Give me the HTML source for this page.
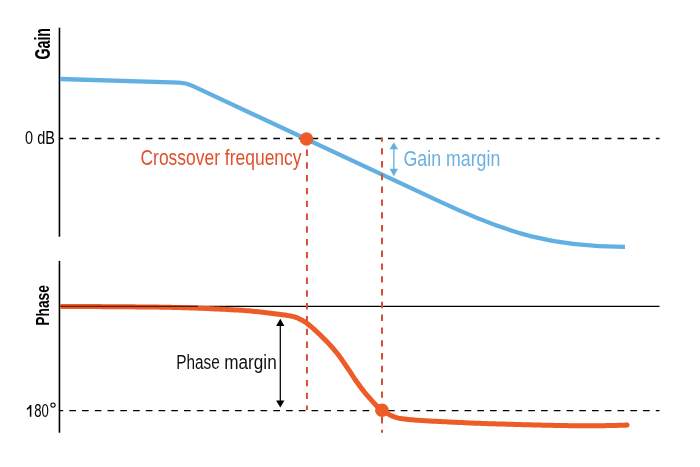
<!DOCTYPE html>
<html><head><meta charset="utf-8"><style>
html,body{margin:0;padding:0;background:#fff;}
svg{display:block;will-change:transform;}
text{font-family:"Liberation Sans",sans-serif;}
</style></head><body>
<svg width="700" height="467" viewBox="0 0 700 467">
<rect width="700" height="467" fill="#fff"/>
<!-- axes -->
<line x1="59.45" y1="27.7" x2="59.45" y2="236.7" stroke="#000" stroke-width="1.6"/>
<line x1="59.45" y1="260.9" x2="59.45" y2="432.7" stroke="#000" stroke-width="1.6"/>
<!-- dashed horizontals -->
<line x1="59.5" y1="138.4" x2="659.5" y2="138.4" stroke="#000" stroke-width="1.45" stroke-dasharray="6.65 6.1" stroke-dashoffset="2.95"/>
<line x1="59.5" y1="410.6" x2="659.5" y2="410.6" stroke="#000" stroke-width="1.45" stroke-dasharray="6.65 6.1" stroke-dashoffset="2.95"/>
<line x1="60" y1="306.4" x2="659.5" y2="306.4" stroke="#000" stroke-width="1.3"/>
<!-- gain curve -->
<path d="M 60 79 L 179 82.7 Q 186.2 82.9 192.5 85.9 L 440 201.6 C 510 234.6 555 247 625 246.8" fill="none" stroke="#62b0e2" stroke-width="4.3" stroke-linecap="butt" stroke-linejoin="round"/>
<!-- red dashed verticals -->
<line x1="306.95" y1="136.7" x2="306.95" y2="410" stroke="#d25136" stroke-width="2" stroke-dasharray="6.4 6.4"/>
<line x1="382" y1="137.6" x2="382" y2="432.8" stroke="#d25136" stroke-width="2" stroke-dasharray="6.4 6.4" stroke-dashoffset="2.2"/>
<!-- phase curve -->
<path d="M 60.5 306.50 L 62.5 306.50 L 64.5 306.50 L 66.5 306.50 L 68.5 306.51 L 70.5 306.51 L 72.5 306.51 L 74.5 306.52 L 76.5 306.52 L 78.5 306.53 L 80.5 306.53 L 82.5 306.54 L 84.5 306.54 L 86.5 306.55 L 88.5 306.56 L 90.5 306.57 L 92.5 306.58 L 94.5 306.59 L 96.5 306.60 L 98.5 306.61 L 100.5 306.62 L 102.5 306.63 L 104.5 306.64 L 106.5 306.65 L 108.5 306.66 L 110.5 306.68 L 112.5 306.69 L 114.5 306.70 L 116.5 306.72 L 118.5 306.73 L 120.5 306.75 L 122.5 306.76 L 124.5 306.78 L 126.5 306.79 L 128.5 306.81 L 130.5 306.82 L 132.5 306.84 L 134.5 306.86 L 136.5 306.88 L 138.5 306.89 L 140.5 306.91 L 142.5 306.93 L 144.5 306.95 L 146.5 306.97 L 148.5 306.99 L 150.5 307.00 L 152.5 307.03 L 154.5 307.05 L 156.5 307.08 L 158.5 307.11 L 160.5 307.14 L 162.5 307.17 L 164.5 307.21 L 166.5 307.25 L 168.5 307.29 L 170.5 307.33 L 172.5 307.38 L 174.5 307.43 L 176.5 307.48 L 178.5 307.54 L 180.5 307.59 L 182.5 307.65 L 184.5 307.71 L 186.5 307.77 L 188.5 307.84 L 190.5 307.91 L 192.5 307.98 L 194.5 308.05 L 196.5 308.12 L 198.5 308.20 L 200.5 308.27 L 202.5 308.36 L 204.5 308.44 L 206.5 308.52 L 208.5 308.61 L 210.5 308.69 L 212.5 308.78 L 214.5 308.88 L 216.5 308.97 L 218.5 309.07 L 220.5 309.16 L 222.5 309.26 L 224.5 309.36 L 226.5 309.47 L 228.5 309.57 L 230.5 309.68 L 232.5 309.78 L 234.5 309.89 L 236.5 310.00 L 238.5 310.11 L 240.5 310.23 L 242.5 310.36 L 244.5 310.50 L 246.5 310.65 L 248.5 310.82 L 250.5 311.00 L 252.5 311.19 L 254.5 311.39 L 256.5 311.60 L 258.5 311.82 L 260.5 312.05 L 262.5 312.29 L 264.5 312.53 L 266.5 312.77 L 268.5 313.02 L 270.5 313.28 L 272.5 313.53 L 274.5 313.79 L 276.5 314.05 L 278.5 314.31 L 280.5 314.56 L 282.5 314.81 L 284.5 315.05 L 286.5 315.31 L 288.5 315.60 L 290.5 315.94 L 292.5 316.33 L 294.5 316.85 L 296.5 317.56 L 298.5 318.41 L 300.5 319.38 L 302.5 320.43 L 304.5 321.60 L 306.5 323.02 L 308.5 324.59 L 310.5 326.20 L 312.5 327.89 L 314.5 329.65 L 316.5 331.49 L 318.5 333.39 L 320.5 335.32 L 322.5 337.29 L 324.5 339.28 L 326.5 341.31 L 328.5 343.39 L 330.5 345.53 L 332.5 347.75 L 334.5 350.06 L 336.5 352.49 L 338.5 355.09 L 340.5 357.83 L 342.5 360.68 L 344.5 363.57 L 346.5 366.47 L 348.5 369.40 L 350.5 372.43 L 352.5 375.50 L 354.5 378.55 L 356.5 381.49 L 358.5 384.28 L 360.5 386.98 L 362.5 389.62 L 364.5 392.17 L 366.5 394.62 L 368.5 396.94 L 370.5 399.18 L 372.5 401.42 L 374.5 403.60 L 376.5 405.66 L 378.5 407.54 L 380.5 409.17 L 382.5 410.51 L 384.5 411.76 L 386.5 412.97 L 388.5 414.11 L 390.5 415.17 L 392.5 416.12 L 394.5 416.94 L 396.5 417.62 L 398.5 418.13 L 400.5 418.47 L 402.5 418.74 L 404.5 418.99 L 406.5 419.22 L 408.5 419.44 L 410.5 419.64 L 412.5 419.83 L 414.5 420.00 L 416.5 420.17 L 418.5 420.32 L 420.5 420.47 L 422.5 420.60 L 424.5 420.73 L 426.5 420.84 L 428.5 420.96 L 430.5 421.06 L 432.5 421.16 L 434.5 421.26 L 436.5 421.36 L 438.5 421.45 L 440.5 421.54 L 442.5 421.64 L 444.5 421.73 L 446.5 421.83 L 448.5 421.92 L 450.5 422.03 L 452.5 422.13 L 454.5 422.23 L 456.5 422.33 L 458.5 422.42 L 460.5 422.52 L 462.5 422.61 L 464.5 422.70 L 466.5 422.79 L 468.5 422.88 L 470.5 422.96 L 472.5 423.05 L 474.5 423.13 L 476.5 423.21 L 478.5 423.29 L 480.5 423.36 L 482.5 423.44 L 484.5 423.51 L 486.5 423.58 L 488.5 423.65 L 490.5 423.71 L 492.5 423.78 L 494.5 423.84 L 496.5 423.90 L 498.5 423.96 L 500.5 424.01 L 502.5 424.07 L 504.5 424.12 L 506.5 424.18 L 508.5 424.24 L 510.5 424.29 L 512.5 424.35 L 514.5 424.41 L 516.5 424.46 L 518.5 424.52 L 520.5 424.57 L 522.5 424.63 L 524.5 424.68 L 526.5 424.74 L 528.5 424.79 L 530.5 424.85 L 532.5 424.90 L 534.5 424.95 L 536.5 425.00 L 538.5 425.05 L 540.5 425.10 L 542.5 425.15 L 544.5 425.20 L 546.5 425.24 L 548.5 425.29 L 550.5 425.33 L 552.5 425.37 L 554.5 425.41 L 556.5 425.45 L 558.5 425.49 L 560.5 425.53 L 562.5 425.56 L 564.5 425.59 L 566.5 425.62 L 568.5 425.65 L 570.5 425.67 L 572.5 425.70 L 574.5 425.72 L 576.5 425.74 L 578.5 425.75 L 580.5 425.77 L 582.5 425.78 L 584.5 425.79 L 586.5 425.80 L 588.5 425.80 L 590.5 425.80 L 592.5 425.80 L 594.5 425.79 L 596.5 425.77 L 598.5 425.75 L 600.5 425.72 L 602.5 425.70 L 604.5 425.66 L 606.5 425.62 L 608.5 425.58 L 610.5 425.54 L 612.5 425.49 L 614.5 425.44 L 616.5 425.38 L 618.5 425.33 L 620.5 425.27 L 622.5 425.21 L 624.5 425.14 L 626.5 425.08 L 627.0 425.07" fill="none" stroke="#ed5b26" stroke-width="5" stroke-linecap="butt" stroke-linejoin="round"/>
<circle cx="627" cy="425.1" r="2.5" fill="#ed5b26"/>
<line x1="60" y1="306.4" x2="198" y2="306.4" stroke="#5e1d0c" stroke-width="1.2"/>
<!-- dots -->
<circle cx="306.5" cy="139" r="6.7" fill="#ed5b26"/>
<circle cx="382" cy="410.2" r="6.8" fill="#ed5b26"/>
<!-- gain margin arrow -->
<line x1="393.8" y1="148" x2="393.8" y2="170" stroke="#62b0e2" stroke-width="1.3"/>
<polygon points="393.8,142.2 389.6,149.2 398,149.2" fill="#62b0e2"/>
<polygon points="393.8,176.2 389.6,168.8 398,168.8" fill="#62b0e2"/>
<!-- phase margin arrow -->
<line x1="280.3" y1="325" x2="280.3" y2="401.5" stroke="#000" stroke-width="1.25"/>
<polygon points="280.3,318.8 276.1,325.9 284.4,325.9" fill="#000"/>
<polygon points="280.3,407.6 276.1,400.6 284.4,400.6" fill="#000"/>
<!-- labels -->
<text transform="translate(49.5,59.5) rotate(-90)" font-size="21.5" font-weight="bold" textLength="31.5" lengthAdjust="spacingAndGlyphs">Gain</text>
<text transform="translate(48.8,325.8) rotate(-90)" font-size="19" font-weight="bold" textLength="40.8" lengthAdjust="spacingAndGlyphs">Phase</text>
<text x="25.1" y="143.6" font-size="17.5" textLength="29.8" lengthAdjust="spacingAndGlyphs">0 dB</text>
<path d="M 30.6 404.9 L 30.6 416.8 M 30.7 405.4 Q 29.6 408 26.9 409.4" fill="none" stroke="#000" stroke-width="1.5"/>
<text x="34.2" y="416.9" font-size="17.5" textLength="14.6" lengthAdjust="spacingAndGlyphs">80</text>
<circle cx="53" cy="405.1" r="2.15" fill="none" stroke="#000" stroke-width="1.05"/>
<text x="140.5" y="165.4" font-size="22" fill="#e0502f" textLength="161" lengthAdjust="spacingAndGlyphs">Crossover frequency</text>
<text x="403.5" y="165.7" font-size="22.5" fill="#6bb0e0" textLength="96.8" lengthAdjust="spacingAndGlyphs">Gain margin</text>
<text x="176.2" y="368.7" font-size="20" fill="#111" textLength="43.5" lengthAdjust="spacingAndGlyphs">Phase</text>
<text x="224.2" y="368.7" font-size="20" fill="#111" textLength="52.5" lengthAdjust="spacingAndGlyphs">margin</text>
</svg>
</body></html>
